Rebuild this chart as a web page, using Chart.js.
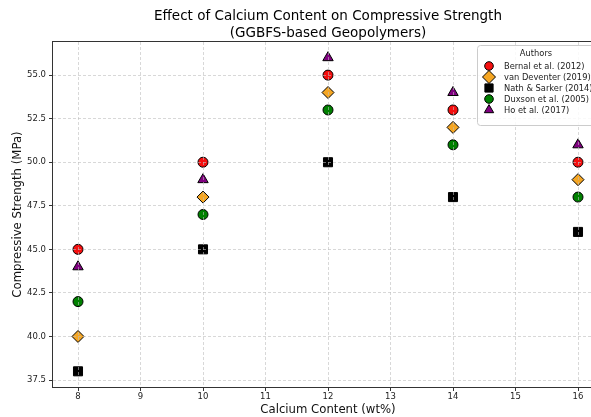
<!DOCTYPE html>
<html>
<head>
<meta charset="utf-8">
<script src="https://cdn.jsdelivr.net/npm/chart.js@4.4.0/dist/chart.umd.min.js"></script>
<style>
    html, body { margin: 0; padding: 0; background: #fff; overflow: hidden; }
    #wrap { position: relative; width: 612px; height: 417px; }
</style>
</head>
<body>
<div id="wrap"><canvas id="strengthChart"></canvas></div>
<script>
// Calcium content (wt%) and compressive strength (MPa) per author
const calciumContent = [8, 10, 12, 14, 16];
const bernal2012 = [45, 50, 55, 53, 50];
const vanDeventer2019 = [40, 48, 54, 52, 49];
const nathSarker2014 = [38, 45, 50, 48, 46];
const duxson2005 = [42, 47, 53, 51, 48];
const ho2017 = [44, 49, 56, 54, 51];

const authorLabels = ['Bernal et al. (2012)', 'van Deventer (2019)', 'Nath & Sarker (2014)', 'Duxson et al. (2005)', 'Ho et al. (2017)'];
const xTicks = [8, 9, 10, 11, 12, 13, 14, 15, 16];
const yTicks = [37.5, 40, 42.5, 45, 47.5, 50, 52.5, 55];
const titleLines = ['Effect of Calcium Content on Compressive Strength', '(GGBFS-based Geopolymers)'];

const FONT = "'DejaVu Sans', sans-serif";
const gridColor = 'rgba(190,190,190,0.75)';

const markerStyles = [
    { pointStyle: 'circle', color: '#f50f0f', radius: 5, legendRadius: 4.3 },
    { pointStyle: 'rectRot', color: '#f5a623', radius: 6, legendRadius: 6.5 },
    { pointStyle: 'rect', color: '#000000', radius: 6.4, legendRadius: 5.8 },
    { pointStyle: 'circle', color: '#008000', radius: 5, legendRadius: 4.3 },
    { pointStyle: 'triangle', color: '#800080', radius: 6, legendRadius: 5.4 }
];

const series = [bernal2012, vanDeventer2019, nathSarker2014, duxson2005, ho2017];

const datasets = series.map((values, i) => ({
    label: authorLabels[i],
    data: calciumContent.map((x, j) => ({ x: x, y: values[j] })),
    pointStyle: markerStyles[i].pointStyle,
    pointRadius: markerStyles[i].radius,
    backgroundColor: markerStyles[i].color,
    borderColor: '#000000',
    borderWidth: 1,
    showLine: false
}));

// Frame, title and boxed legend in matplotlib fashion
const decorations = {
    id: 'decorations',
    beforeDatasetsDraw(chart) {
        const { ctx, chartArea } = chart;
        ctx.save();
        ctx.strokeStyle = '#333333';
        ctx.lineWidth = 1;
        ctx.strokeRect(chartArea.left - 0.5, chartArea.top - 0.5,
            chartArea.right - chartArea.left + 1, chartArea.bottom - chartArea.top + 1);
        ctx.restore();
    },
    afterDraw(chart) {
        const { ctx, chartArea } = chart;
        const cx = (chartArea.left + chartArea.right) / 2;
        ctx.save();

        // title
        ctx.fillStyle = '#000';
        ctx.font = `13.5px ${FONT}`;
        ctx.textAlign = 'center';
        ctx.textBaseline = 'middle';
        ctx.fillText(titleLines[0], cx, 16);
        ctx.fillText(titleLines[1], cx, 33);

        // legend box
        const bx = 477.5, by = 45.5, bw = 128, bh = 80;
        ctx.beginPath();
        ctx.roundRect(bx, by, bw, bh, 3);
        ctx.fillStyle = 'rgba(255,255,255,0.85)';
        ctx.fill();
        ctx.strokeStyle = '#cccccc';
        ctx.lineWidth = 1;
        ctx.stroke();

        ctx.fillStyle = '#222';
        ctx.font = `8.3px ${FONT}`;
        ctx.fillText('Authors', 536, 54);

        ctx.textAlign = 'left';
        datasets.forEach((ds, i) => {
            const y = 66 + i * 11;
            ctx.fillStyle = markerStyles[i].color;
            ctx.strokeStyle = '#000';
            ctx.lineWidth = 1;
            Chart.helpers.drawPoint(ctx, {
                pointStyle: markerStyles[i].pointStyle,
                radius: markerStyles[i].legendRadius,
                borderWidth: 1,
                rotation: 0
            }, 489, y);
            ctx.fillStyle = '#222';
            ctx.fillText(ds.label, 504, y + 0.5);
        });
        ctx.restore();
    }
};

new Chart(document.getElementById('strengthChart'), {
    type: 'scatter',
    data: { datasets: datasets },
    options: {
        responsive: true,
        maintainAspectRatio: false,
        animation: false,
        events: [],
        layout: { padding: { top: 42, right: 9, bottom: 0, left: 0 } },
        plugins: {
            legend: { display: false },
            title: { display: false },
            tooltip: { enabled: false }
        },
        scales: {
            x: {
                type: 'linear',
                min: 7.6,
                max: 16.4,
                afterBuildTicks: (scale) => { scale.ticks = xTicks.map(v => ({ value: v })); },
                afterFit: (scale) => { scale.height = 30; },
                grid: {
                    z: 1,
                    color: gridColor,
                    lineWidth: 0.8,
                    tickLength: 4,
                    tickColor: '#333',
                    tickBorderDash: [],
                    tickWidth: 1
                },
                border: { display: false, dash: [3, 2] },
                ticks: {
                    color: '#222',
                    font: { family: FONT, size: 8.5 },
                    padding: 1,
                    maxRotation: 0,
                    autoSkip: false,
                    callback: (v) => String(v)
                },
                title: {
                    display: true,
                    text: 'Calcium Content (wt%)',
                    color: '#111',
                    font: { family: FONT, size: 11.7 },
                    padding: { top: 0, bottom: 0 }
                }
            },
            y: {
                min: 37.1,
                max: 56.9,
                afterBuildTicks: (scale) => { scale.ticks = yTicks.map(v => ({ value: v })); },
                afterFit: (scale) => { scale.width = 53; },
                grid: {
                    z: 1,
                    color: gridColor,
                    lineWidth: 0.8,
                    tickLength: 4,
                    tickColor: '#333',
                    tickBorderDash: [],
                    tickWidth: 1
                },
                border: { display: false, dash: [3, 2] },
                ticks: {
                    color: '#222',
                    font: { family: FONT, size: 8.5 },
                    padding: 3,
                    autoSkip: false,
                    callback: (v) => Number(v).toFixed(1)
                },
                title: {
                    display: true,
                    text: 'Compressive Strength (MPa)',
                    color: '#111',
                    font: { family: FONT, size: 11.7 },
                    padding: { top: 11, bottom: 0 }
                }
            }
        }
    },
    plugins: [decorations]
});
</script>
</body>
</html>
